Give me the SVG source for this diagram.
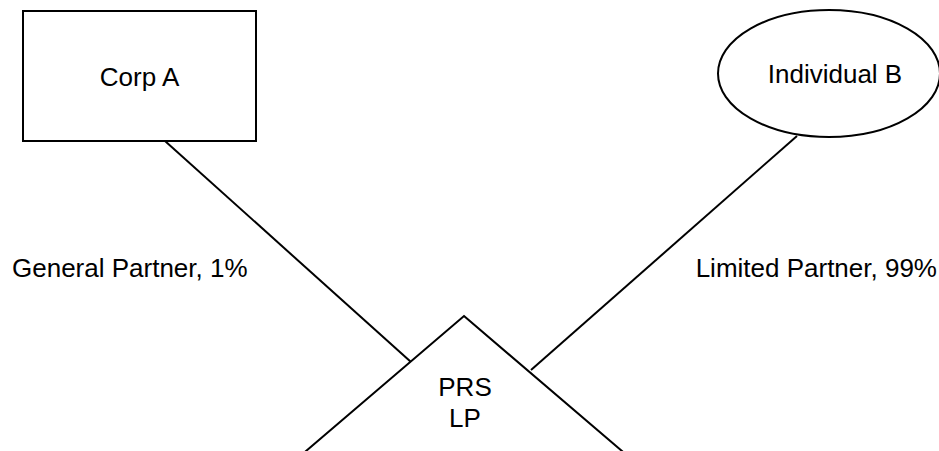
<svg xmlns="http://www.w3.org/2000/svg" width="939" height="451" viewBox="0 0 939 451">
<style>
.s{fill:#fff;stroke:#000;stroke-width:2}
.t{font-family:"Liberation Sans",Arial,sans-serif;font-size:26px;fill:#000}
.c{stroke:#000;stroke-width:2;fill:none}
</style>
<rect width="939" height="451" fill="#fff"/>
<g id="connectors">
<line class="c" x1="165" y1="141" x2="411" y2="362"/>
<line class="c" x1="797" y1="136" x2="531" y2="370"/>
</g>
<g id="corpA">
<rect class="s" x="23" y="11" width="233" height="130"/>
<text class="t" x="139.5" y="86" text-anchor="middle">Corp A</text>
</g>
<g id="individualB">
<ellipse class="s" cx="829" cy="73.5" rx="111" ry="63.5"/>
<text class="t" x="835" y="83" text-anchor="middle">Individual B</text>
</g>
<g id="prs">
<polygon class="s" points="464,316 698,516 464,716 230,516"/>
<text class="t" x="465" y="396" text-anchor="middle">PRS</text>
<text class="t" x="465" y="427" text-anchor="middle">LP</text>
</g>
<g id="labels">
<text class="t" x="12" y="277">General Partner, 1%</text>
<text class="t" x="937" y="277" text-anchor="end">Limited Partner, 99%</text>
</g>
</svg>
